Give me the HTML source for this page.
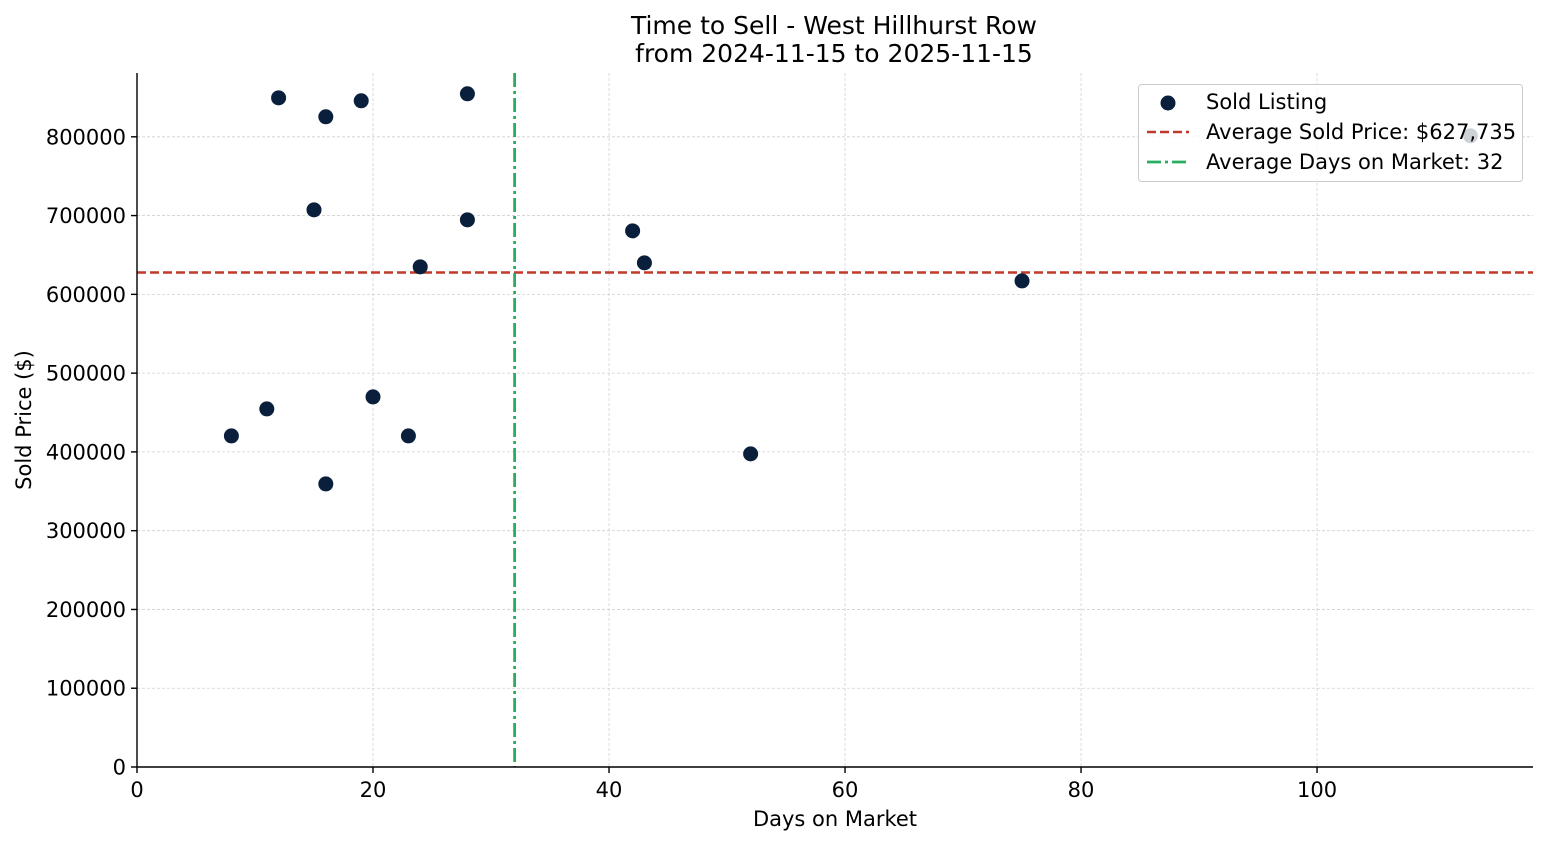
<!DOCTYPE html>
<html><head><meta charset="utf-8"><style>
body{margin:0;background:#fff;}
svg text{font-family:"DejaVu Sans","Liberation Sans",sans-serif;fill:#000;}
</style></head><body>
<svg id="chart" width="1547" height="845" xmlns="http://www.w3.org/2000/svg"></svg>
<script>
const daysOnMarket=[12,16,19,28,15,28,24,42,43,75,8,11,20,23,16,52,113];
const soldPrices=[849500,825400,845700,854600,707300,694600,634900,680600,640000,617100,420300,454600,469800,420300,359400,397500,801300];
const xTicks=[0,20,40,60,80,100];
const yTicks=[0,100000,200000,300000,400000,500000,600000,700000,800000];
const avgPrice=627735;
const avgDays=32;

const NS="http://www.w3.org/2000/svg";
const svg=document.getElementById('chart');
const L=137,R=1533,T=73,B=767;
const xMin=0,xMax=118.3,yMin=0,yMax=881000;
const sx=v=>L+(v-xMin)/(xMax-xMin)*(R-L);
const sy=v=>B-(v-yMin)/(yMax-yMin)*(B-T);
function el(tag,attrs,parent){const e=document.createElementNS(NS,tag);for(const k in attrs)e.setAttribute(k,attrs[k]);(parent||svg).appendChild(e);return e;}

xTicks.forEach(t=>{const g=el('line',{x1:sx(t),x2:sx(t),y1:T,y2:B,stroke:'#d0d0d0','stroke-width':0.8,'stroke-dasharray':'3,2'});

});
yTicks.forEach(t=>{const g=el('line',{x1:L,x2:R,y1:sy(t),y2:sy(t),stroke:'#d0d0d0','stroke-width':0.8,'stroke-dasharray':'3,2'});

});

const hl=el('line',{x1:L,x2:R,y1:sy(avgPrice),y2:sy(avgPrice),stroke:'#c0392b','stroke-width':2.5,'stroke-dasharray':'9,4'});


const vl=el('line',{x1:sx(avgDays),x2:sx(avgDays),y1:T,y2:B,stroke:'#27ae60','stroke-width':2.8,'stroke-dasharray':'14,4,3,4'});



daysOnMarket.forEach((d,i)=>{const c=el('circle',{cx:sx(d),cy:sy(soldPrices[i]),r:7.5,fill:'#0a1f3c'});

});

const ax=el('line',{x1:L,x2:R,y1:B,y2:B,stroke:'#000','stroke-width':1.4});


const ay=el('line',{x1:L,x2:L,y1:T,y2:B,stroke:'#000','stroke-width':1.4});



xTicks.forEach(t=>{el('line',{x1:sx(t),x2:sx(t),y1:B,y2:B+6,stroke:'#000','stroke-width':1.4});
const tx=el('text',{x:sx(t),y:B+30,'text-anchor':'middle','font-size':21});tx.textContent=t;

});
yTicks.forEach(t=>{el('line',{x1:L-6,x2:L,y1:sy(t),y2:sy(t),stroke:'#000','stroke-width':1.4});
const tx=el('text',{x:L-11,y:sy(t)+7.5,'text-anchor':'end','font-size':21});tx.textContent=t;

});

function txt(s,a,name){const t=el('text',a);t.textContent=s;

return t;}
txt('Time to Sell - West Hillhurst Row',{x:834,y:34,'text-anchor':'middle','font-size':25},'chart-title');
txt('from 2024-11-15 to 2025-11-15',{x:834,y:62,'text-anchor':'middle','font-size':25},'chart-subtitle');
txt('Days on Market',{x:835,y:826,'text-anchor':'middle','font-size':21},'x-axis-title');
txt('Sold Price ($)',{x:31,y:420,'text-anchor':'middle','font-size':21,transform:'rotate(-90 31 420)'},'y-axis-title');

const lg=el('g',{});


el('rect',{x:1138.5,y:84.5,width:384,height:97,rx:3,fill:'#fff','fill-opacity':0.8,stroke:'#ccc'},lg);
el('circle',{cx:1168,cy:103,r:7.5,fill:'#0a1f3c'},lg);
el('line',{x1:1147,x2:1189,y1:132,y2:132,stroke:'#c0392b','stroke-width':2.5,'stroke-dasharray':'9,4'},lg);
el('line',{x1:1147,x2:1189,y1:162,y2:162,stroke:'#27ae60','stroke-width':2.8,'stroke-dasharray':'14,4,3,4'},lg);
[['Sold Listing',109,'legend-entry-sold'],['Average Sold Price: $627,735',139,'legend-entry-avg-price'],['Average Days on Market: 32',169,'legend-entry-avg-days']].forEach(([s,y,n])=>{
const t=el('text',{x:1206,y:y,'font-size':21},lg);t.textContent=s;

});
</script>
</body></html>
